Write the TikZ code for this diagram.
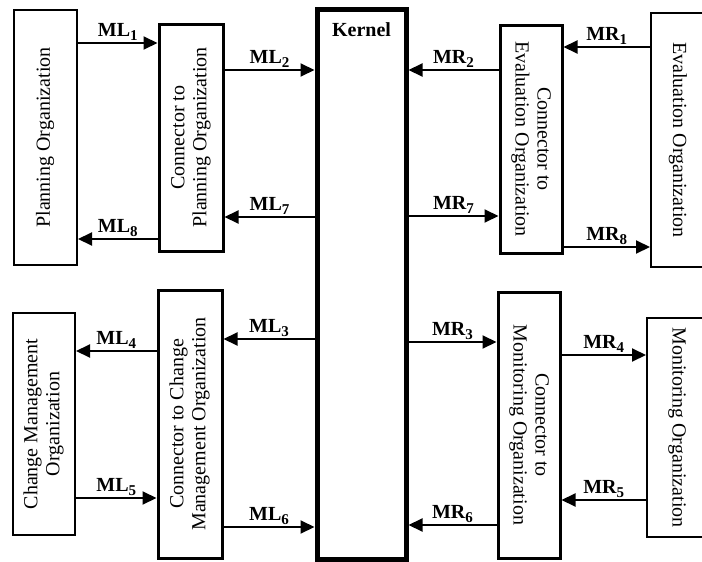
\documentclass[tikz,border=0pt]{standalone}
\usepackage{fontspec}
\setmainfont{Liberation Serif}
\usetikzlibrary{arrows.meta}
% rotated, centred multi-line box text
\newcommand\turnedlabel[2]{\rotatebox{#1}{\renewcommand\arraystretch{0.92}\begin{tabular}{@{}c@{}}#2\end{tabular}}}
% message name with a slightly lowered index
\newcommand\msg[2]{#1\raisebox{-2.2pt}{\fontsize{7.5}{8}\selectfont #2}}
\begin{document}
\begin{tikzpicture}[x=0.5pt,y=-0.5pt,
  box/.style={draw, line width=1pt, inner sep=0pt, font=\fontsize{10}{12}\selectfont},
  conbox/.style={box, line width=1.5pt},
  kbox/.style={draw, line width=2.5pt, inner sep=0pt},
  flow/.style={line width=1pt, -{Triangle[length=7pt,width=6.5pt]}},
  lab/.style={font=\fontsize{10}{12}\selectfont\bfseries, anchor=base, yshift=3.5pt, inner sep=0pt},
]
\useasboundingbox (0,0) rectangle (702,562);
\clip (0,0) rectangle (702,562);

% organizations and their connectors
\node[box, minimum width=31.5pt, minimum height=127.5pt] (plan) at (45.5,137.5)
  {\turnedlabel{90}{Planning Organization}};
\node[conbox, minimum width=32pt, minimum height=113.5pt] (conp) at (191,137.5)
  {\turnedlabel{90}{Connector to\\Planning Organization}};
\node[box, minimum width=31pt, minimum height=111pt] (chg) at (44,424)
  {\turnedlabel{90}{Change Management\\Organization}};
\node[conbox, minimum width=32pt, minimum height=134pt] (conc) at (190,424)
  {\turnedlabel{90}{Connector to Change\\Management Organization}};

\node[kbox, minimum width=44.5pt, minimum height=275pt,
  label={[anchor=north, yshift=-8pt, inner sep=0pt, font=\fontsize{10}{12}\selectfont\bfseries]north:Kernel}]
  (kernel) at (361.5,284) {};

\node[conbox, minimum width=31pt, minimum height=114pt] (cone) at (531,139)
  {\turnedlabel{-90}{Connector to\\Evaluation Organization}};
\node[box, minimum width=26.5pt, minimum height=127pt] (eval) at (677.5,140)
  {\turnedlabel{-90}{Evaluation Organization}};
\node[conbox, minimum width=31pt, minimum height=133pt] (conm) at (529,425)
  {\turnedlabel{-90}{Connector to\\Monitoring Organization}};
\node[box, minimum width=30pt, minimum height=109.5pt] (mon) at (677,427.5)
  {\turnedlabel{-90}{Monitoring Organization}};

% left-hand messages
\draw[flow] (plan.east |- 0,43) -- node[lab]{\msg{ML}{1}} (conp.west |- 0,43);
\draw[flow] (conp.east |- 0,70) -- node[lab]{\msg{ML}{2}} (kernel.west |- 0,70);
\draw[flow] (kernel.west |- 0,217) -- node[lab]{\msg{ML}{7}} (conp.east |- 0,217);
\draw[flow] (conp.west |- 0,239) -- node[lab]{\msg{ML}{8}} (plan.east |- 0,239);
\draw[flow] (kernel.west |- 0,339) -- node[lab]{\msg{ML}{3}} (conc.east |- 0,339);
\draw[flow] (conc.west |- 0,351) -- node[lab]{\msg{ML}{4}} (chg.east |- 0,351);
\draw[flow] (chg.east |- 0,498) -- node[lab]{\msg{ML}{5}} (conc.west |- 0,498);
\draw[flow] (conc.east |- 0,527) -- node[lab]{\msg{ML}{6}} (kernel.west |- 0,527);

% right-hand messages
\draw[flow] (eval.west |- 0,47) -- node[lab]{\msg{MR}{1}} (cone.east |- 0,47);
\draw[flow] (cone.west |- 0,70) -- node[lab]{\msg{MR}{2}} (kernel.east |- 0,70);
\draw[flow] (kernel.east |- 0,216) -- node[lab]{\msg{MR}{7}} (cone.west |- 0,216);
\draw[flow] (cone.east |- 0,247) -- node[lab]{\msg{MR}{8}} (eval.west |- 0,247);
\draw[flow] (kernel.east |- 0,342) -- node[lab]{\msg{MR}{3}} (conm.west |- 0,342);
\draw[flow] (conm.east |- 0,355) -- node[lab]{\msg{MR}{4}} (mon.west |- 0,355);
\draw[flow] (mon.west |- 0,500) -- node[lab]{\msg{MR}{5}} (conm.east |- 0,500);
\draw[flow] (conm.west |- 0,525) -- node[lab]{\msg{MR}{6}} (kernel.east |- 0,525);
\end{tikzpicture}
\end{document}
